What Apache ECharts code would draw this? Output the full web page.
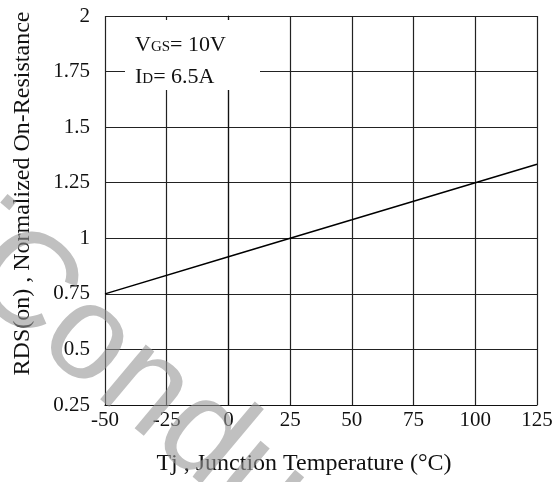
<!DOCTYPE html>
<html><head><meta charset="utf-8">
<script src="https://cdn.jsdelivr.net/npm/echarts@6/dist/echarts.min.js"></script>
<style>html,body{margin:0;padding:0;background:#fff}#c{width:559px;height:482px}</style>
</head><body><div id="c"></div>
<script>
const temps = [-50, 0, 25, 50, 75, 100, 125];
const rdsNorm = [0.75, 0.917, 1.0, 1.083, 1.167, 1.25, 1.333];
const xTicks = { min: -50, max: 125, interval: 25 };
const yTicks = { min: 0.25, max: 2, interval: 0.25 };
const xTitle = 'Tj , Junction Temperature (°C)';
const yTitle = 'RDS(on) , Normalized On-Resistance';
const F = '"Liberation Serif","DejaVu Serif",serif';

const chart = echarts.init(document.getElementById('c'));
chart.setOption({
  animation: false,
  backgroundColor: '#fff',
  grid: { left: 105, right: 22, top: 16, bottom: 77 },
  xAxis: {
    type: 'value', min: xTicks.min, max: xTicks.max, interval: xTicks.interval,
    axisLine: { lineStyle: { color: '#111', width: 1.2 } },
    axisTick: { show: false },
    axisLabel: { color: '#111', fontFamily: F, fontSize: 21, margin: 5 },
    splitLine: { show: true, lineStyle: { color: '#222', width: 1.2 } },
    name: xTitle, nameLocation: 'middle', nameGap: 47,
    nameTextStyle: { color: '#111', fontFamily: F, fontSize: 24, padding: [0, 34, 0, 0] }
  },
  yAxis: {
    type: 'value', min: yTicks.min, max: yTicks.max, interval: yTicks.interval,
    axisLine: { show: true, lineStyle: { color: '#111', width: 1.2 } },
    axisTick: { show: false },
    axisLabel: { color: '#111', fontFamily: F, fontSize: 21, margin: 15 },
    splitLine: { show: true, lineStyle: { color: '#222', width: 1.2 } },
    name: yTitle, nameLocation: 'middle', nameGap: 70, nameRotate: 90,
    nameTextStyle: { color: '#111', fontFamily: F, fontSize: 24, padding: [0, 0, 0, 34] }
  },
  series: [{
    type: 'line', data: temps.map((t, i) => [t, rdsNorm[i]]),
    showSymbol: false, lineStyle: { color: '#000', width: 1.5 }, z: 3
  }],
  graphic: [
    { type: 'rect', z: 100, shape: { x: 125, y: 20, width: 135, height: 70 }, style: { fill: '#fff' } },
    { type: 'text', z: 101, left: 135, top: 34, style: {
        text: 'V{s|GS}= 10V', fill: '#111', font: '22px ' + F,
        rich: { s: { fontSize: 15, fontFamily: F, fill: '#111', padding: [5, 0, 0, 0] } } } },
    { type: 'text', z: 101, left: 135, top: 66, style: {
        text: 'I{s|D}= 6.5A', fill: '#111', font: '22px ' + F,
        rich: { s: { fontSize: 15, fontFamily: F, fill: '#111', padding: [5, 0, 0, 0] } } } },
    { type: 'text', z: 200, x: -251, y: 56, rotation: -40 * Math.PI / 180, style: {
        text: 'SemiConductor', fill: 'rgba(150,150,150,0.6)', font: '135px "Liberation Sans", sans-serif',
        textAlign: 'left', textVerticalAlign: 'middle' } }
  ]
});
</script></body></html>
